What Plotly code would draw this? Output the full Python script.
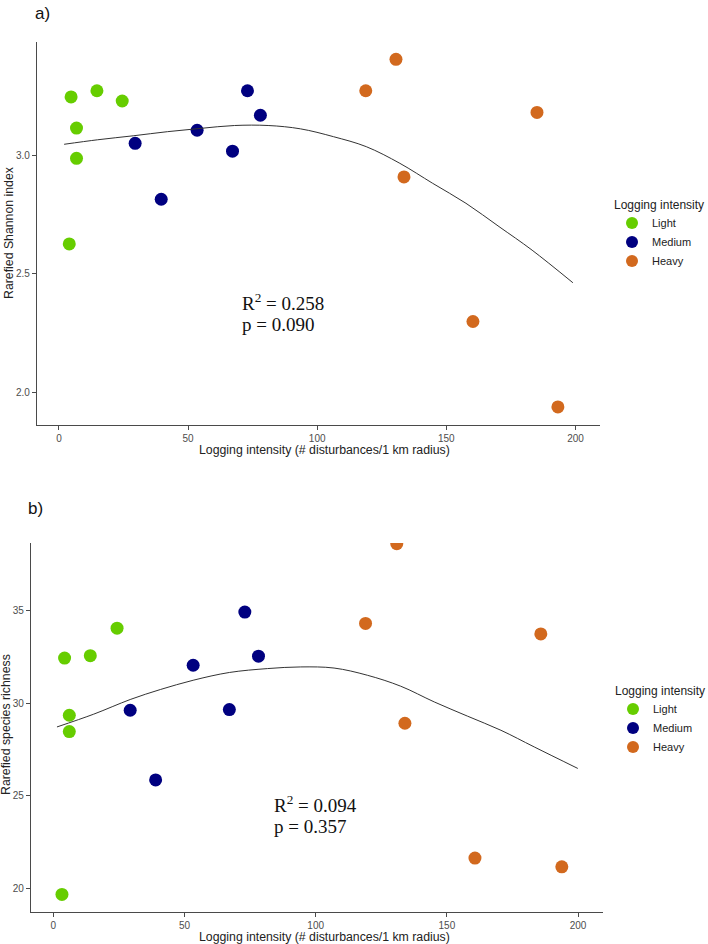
import plotly.graph_objects as go

# ---------------- data ----------------
groups = ["Light", "Medium", "Heavy"]
colors = {"Light": "#66CD00", "Medium": "#000080", "Heavy": "#D2691E"}

# panel a) rarefied Shannon index
a_x = {
    "Light": [4.7, 14.7, 24.5, 6.8, 6.8, 4.0],
    "Medium": [29.5, 39.6, 53.5, 67.2, 73.0, 78.0],
    "Heavy": [130.5, 118.8, 185.1, 133.6, 160.3, 193.2],
}
a_y = {
    "Light": [3.244, 3.270, 3.227, 3.113, 2.986, 2.626],
    "Medium": [3.049, 2.814, 3.104, 3.016, 3.270, 3.167],
    "Heavy": [3.402, 3.270, 3.179, 2.908, 2.300, 1.941],
}
a_fit_x = [2, 15, 29, 42, 55, 68, 81, 93.5, 106.3, 119, 132, 144.7, 157.6, 170.4, 183.2, 199]
a_fit_y = [3.045, 3.064, 3.081, 3.098, 3.112, 3.124, 3.124, 3.110, 3.077, 3.035,
           2.965, 2.881, 2.797, 2.699, 2.600, 2.463]

# panel b) rarefied species richness
b_x = {
    "Light": [4.3, 14.1, 24.3, 6.1, 6.1, 3.3],
    "Medium": [29.3, 39.0, 53.3, 67.1, 73.0, 78.2],
    "Heavy": [130.9, 119.0, 185.8, 134.0, 160.7, 193.8],
}
b_y = {
    "Light": [32.44, 32.57, 34.05, 29.35, 28.47, 19.68],
    "Medium": [29.62, 25.86, 32.05, 29.66, 34.92, 32.54],
    "Heavy": [38.61, 34.31, 33.74, 28.92, 21.64, 21.17],
}
b_fit_x = [1.4, 15.4, 29.3, 40.8, 53.3, 67.1, 81.6, 94.3, 107.0, 119.7, 132.4,
           145.2, 157.9, 170.6, 183.3, 199.9]
b_fit_y = [28.72, 29.41, 30.20, 30.74, 31.24, 31.66, 31.87, 31.96, 31.90, 31.51,
           30.92, 30.07, 29.30, 28.54, 27.64, 26.48]

x_ticks = [0, 50, 100, 150, 200]
a_yticks = [2.0, 2.5, 3.0]
b_yticks = [20, 25, 30, 35]

a_stats = ["R<sup>2</sup> = 0.258", "p = 0.090"]
b_stats = ["R<sup>2</sup> = 0.094", "p = 0.357"]

x_title = "Logging intensity (# disturbances/1 km radius)"
legend_title = "Logging intensity"

# ---------------- figure ----------------
W, H = 708, 944
SANS = "Liberation Sans, Arial, sans-serif"
SERIF = "Liberation Serif, Times New Roman, serif"

fig = go.Figure()

for g in groups:
    fig.add_trace(go.Scatter(x=a_x[g], y=a_y[g], mode="markers", name=g,
                             marker=dict(color=colors[g], size=13),
                             xaxis="x", yaxis="y", legend="legend"))
fig.add_trace(go.Scatter(x=a_fit_x, y=a_fit_y, mode="lines", line=dict(color="#333333", width=1),
                         line_shape="spline", showlegend=False, xaxis="x", yaxis="y"))

for g in groups:
    fig.add_trace(go.Scatter(x=b_x[g], y=b_y[g], mode="markers", name=g,
                             marker=dict(color=colors[g], size=13),
                             xaxis="x2", yaxis="y2", legend="legend2"))
fig.add_trace(go.Scatter(x=b_fit_x, y=b_fit_y, mode="lines", line=dict(color="#333333", width=1),
                         line_shape="spline", showlegend=False, xaxis="x2", yaxis="y2"))


def px_x(p):
    return p / W


def px_y(p):
    return 1 - p / H


axis_common = dict(showgrid=False, zeroline=False, showline=True, linecolor="#4a4a4a", linewidth=1.3,
                   ticks="outside", ticklen=4, tickcolor="#4a4a4a", tickwidth=1,
                   tickfont=dict(family=SANS, size=10, color="#4d4d4d"))

legend_common = dict(title=dict(text=legend_title, font=dict(family=SANS, size=12, color="#222")),
                     font=dict(family=SANS, size=11, color="#222"),
                     xanchor="left", yanchor="top", itemsizing="constant",
                     bgcolor="rgba(0,0,0,0)", tracegroupgap=0)

fig.update_layout(
    width=W, height=H,
    margin=dict(l=0, r=0, t=0, b=0, autoexpand=False),
    paper_bgcolor="white", plot_bgcolor="white",
    xaxis=dict(domain=[px_x(37), px_x(600)], range=[-8.5, 209.5], anchor="y",
               tickvals=x_ticks, **axis_common),
    yaxis=dict(domain=[px_y(425), px_y(42)], range=[1.865, 3.475], anchor="x",
               tickvals=a_yticks, tickformat=".1f", **axis_common),
    xaxis2=dict(domain=[px_x(31), px_x(603)], range=[-8.5, 209.5], anchor="y2",
                tickvals=x_ticks, **axis_common),
    yaxis2=dict(domain=[px_y(912), px_y(543)], range=[18.73, 38.65], anchor="x2",
                tickvals=b_yticks, **axis_common),
    legend=dict(x=px_x(612), y=px_y(193), **legend_common),
    legend2=dict(x=px_x(613), y=px_y(679), **legend_common),
    showlegend=True,
)

ann = []
# panel labels
ann.append(dict(text="a)", x=px_x(33), y=px_y(13), xref="paper", yref="paper", xanchor="left",
                yanchor="middle", showarrow=False, font=dict(family=SANS, size=17, color="#111")))
ann.append(dict(text="b)", x=px_x(26), y=px_y(508), xref="paper", yref="paper", xanchor="left",
                yanchor="middle", showarrow=False, font=dict(family=SANS, size=17, color="#111")))
# axis titles
ann.append(dict(text=x_title, x=px_x(324), y=px_y(450), xref="paper", yref="paper",
                xanchor="center", yanchor="middle", showarrow=False,
                font=dict(family=SANS, size=12.3, color="#222")))
ann.append(dict(text=x_title, x=px_x(324), y=px_y(937), xref="paper", yref="paper",
                xanchor="center", yanchor="middle", showarrow=False,
                font=dict(family=SANS, size=12.3, color="#222")))
ann.append(dict(text="Rarefied Shannon index", x=px_x(9), y=px_y(233), xref="paper", yref="paper",
                xanchor="center", yanchor="middle", textangle=-90, showarrow=False,
                font=dict(family=SANS, size=12.3, color="#222")))
ann.append(dict(text="Rarefied species richness", x=px_x(6), y=px_y(725), xref="paper", yref="paper",
                xanchor="center", yanchor="middle", textangle=-90, showarrow=False,
                font=dict(family=SANS, size=12.3, color="#222")))
# stats
for i, t in enumerate(a_stats):
    ann.append(dict(text=t, x=px_x(240), y=px_y(302 + 22 * i), xref="paper", yref="paper",
                    xanchor="left", yanchor="middle", showarrow=False,
                    font=dict(family=SERIF, size=19, color="#111")))
for i, t in enumerate(b_stats):
    ann.append(dict(text=t, x=px_x(272), y=px_y(804 + 22 * i), xref="paper", yref="paper",
                    xanchor="left", yanchor="middle", showarrow=False,
                    font=dict(family=SERIF, size=19, color="#111")))

fig.update_layout(annotations=ann)

fig.write_html("out.html")
